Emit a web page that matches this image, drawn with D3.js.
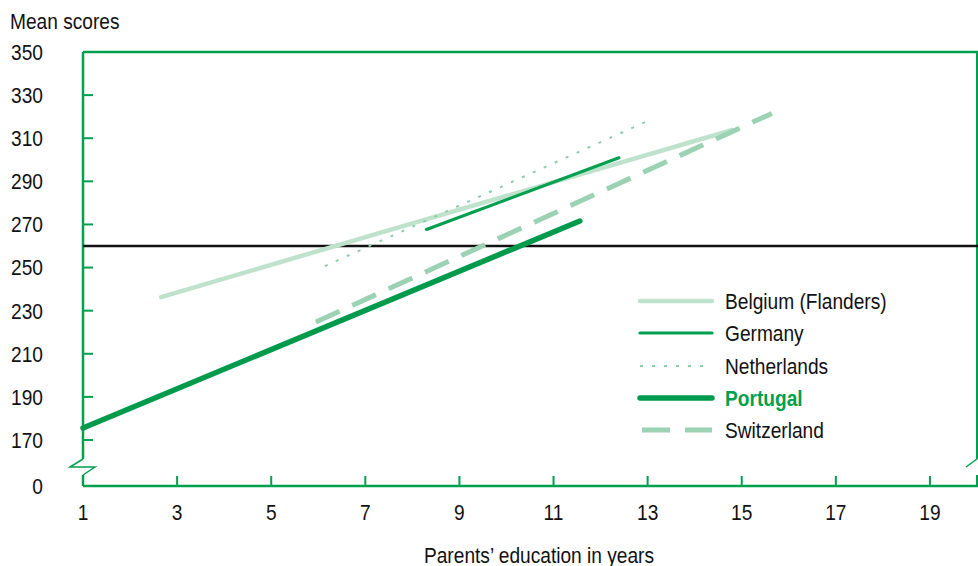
<!DOCTYPE html>
<html><head><meta charset="utf-8">
<script src="https://cdn.jsdelivr.net/npm/d3@7"></script>
<style>
body{margin:0;background:#fff;}
svg{display:block;}
text{font-family:"Liberation Sans",Arial,sans-serif;fill:#111;}
</style></head>
<body>
<svg id="c" width="978" height="566"></svg>
<script>
const xTicks = [1,3,5,7,9,11,13,15,17,19];
const yTicks = [170,190,210,230,250,270,290,310,330,350];
const countries = ["Belgium (Flanders)","Germany","Netherlands","Portugal","Switzerland"];
const belgiumX = [2.66, 8.0, 14.8];
const belgiumY = [236.3, 270.5, 313.8];
const germanyX = [8.3, 12.39];
const germanyY = [267.7, 300.9];
const netherlandsX = [6.14, 13.0];
const netherlandsY = [250.7, 318.0];
const portugalX = [1.0, 11.56];
const portugalY = [175.6, 271.6];
const switzerlandX = [5.95, 15.64];
const switzerlandY = [224.7, 321.5];
const averageScore = 260;

const svg = d3.select("#c");
const L = 83, R = 977, T = 52, B = 486;
const x = d3.scaleLinear().domain([1,20]).range([L,R]);
const y = d3.scaleLinear().domain([170,350]).range([440,T]);
const green = "#00a04f";
const FS = 22, SX = 0.87;

function label(px, py, str, anchor, dy){
  return svg.append("text").attr("transform",`translate(${px},${py}) scale(${SX},1)`)
    .attr("text-anchor",anchor||"start").attr("dy",dy||null).attr("font-size",FS).text(str);
}

const styles = [
  {c:"#bfe2cd", w:4.5, d:null, X:belgiumX, Y:belgiumY},
  {c:"#00a04f", w:3.2, d:null, X:germanyX, Y:germanyY},
  {c:"#8dcdab", w:2, d:"3,9", X:netherlandsX, Y:netherlandsY},
  {c:"#009a4c", w:5.5, d:null, X:portugalX, Y:portugalY},
  {c:"#9bd2b3", w:5, d:"26,14", X:switzerlandX, Y:switzerlandY}
];

// frame
const frame = svg.append("g").attr("fill","none").attr("stroke",green);
frame.append("line").attr("x1",L).attr("x2",R+1).attr("y1",T).attr("y2",T).attr("stroke-width",2.5);
frame.append("line").attr("x1",R).attr("x2",R).attr("y1",T).attr("y2",459).attr("stroke-width",2);
frame.append("line").attr("x1",L).attr("x2",L).attr("y1",T).attr("y2",459).attr("stroke-width",2.5);
frame.append("line").attr("x1",L).attr("x2",L).attr("y1",475).attr("y2",B).attr("stroke-width",2.5);
frame.append("polyline").attr("points",`${L},459 ${L-13},467 ${L+12},467 ${L},475`).attr("stroke-width",1.5);
frame.append("polyline").attr("points",`${R},459 ${R-11},467`).attr("stroke-width",1.5);
frame.append("line").attr("x1",R).attr("x2",R).attr("y1",475).attr("y2",B).attr("stroke-width",2);
frame.append("line").attr("x1",L).attr("x2",R+1).attr("y1",B).attr("y2",B).attr("stroke-width",2.5);

// y ticks
yTicks.forEach(v=>{
  frame.append("line").attr("x1",L).attr("x2",L+10).attr("y1",y(v)).attr("y2",y(v)).attr("stroke-width",2);
  label(43, y(v), v, "end", "0.36em");
});
label(43, B, "0", "end", "0.36em");

// x ticks
xTicks.forEach(v=>{
  if(v!==1) frame.append("line").attr("x1",x(v)).attr("x2",x(v)).attr("y1",B).attr("y2",B-10).attr("stroke-width",2);
  label(x(v), 520, v, "middle");
});

label(10, 29, "Mean scores");
label(539, 563, "Parents’ education in years", "middle");

// average line
svg.append("line").attr("x1",L).attr("x2",R+1).attr("y1",y(averageScore)).attr("y2",y(averageScore))
  .attr("stroke","#111").attr("stroke-width",2.5);

const line = d3.line().x(d=>x(d[0])).y(d=>y(d[1]));
const order = [0,2,4,1,3];
order.forEach(i=>{
  const s = styles[i];
  const pts = s.X.map((v,j)=>[v,s.Y[j]]);
  svg.append("path").attr("d",line(pts)).attr("fill","none").attr("stroke",s.c)
    .attr("stroke-width",s.w).attr("stroke-linecap", s.d? "butt":"round")
    .attr("stroke-dasharray",s.d);
});

// legend
const legY = [301,333,366,398,430];
countries.forEach((name,i)=>{
  const s = styles[i];
  svg.append("line").attr("x1",i===4?642:640).attr("x2",712).attr("y1",legY[i]).attr("y2",legY[i])
    .attr("stroke",s.c).attr("stroke-width",s.w).attr("stroke-linecap", s.d?"butt":"round")
    .attr("stroke-dasharray", i===2 ? "3,9" : (i===4 ? "28,15" : null));
  label(725, legY[i], name, "start", "0.36em")
    .attr("font-weight", i===3?"bold":"normal").style("fill", i===3?green:"#111");
});
</script>
</body></html>
